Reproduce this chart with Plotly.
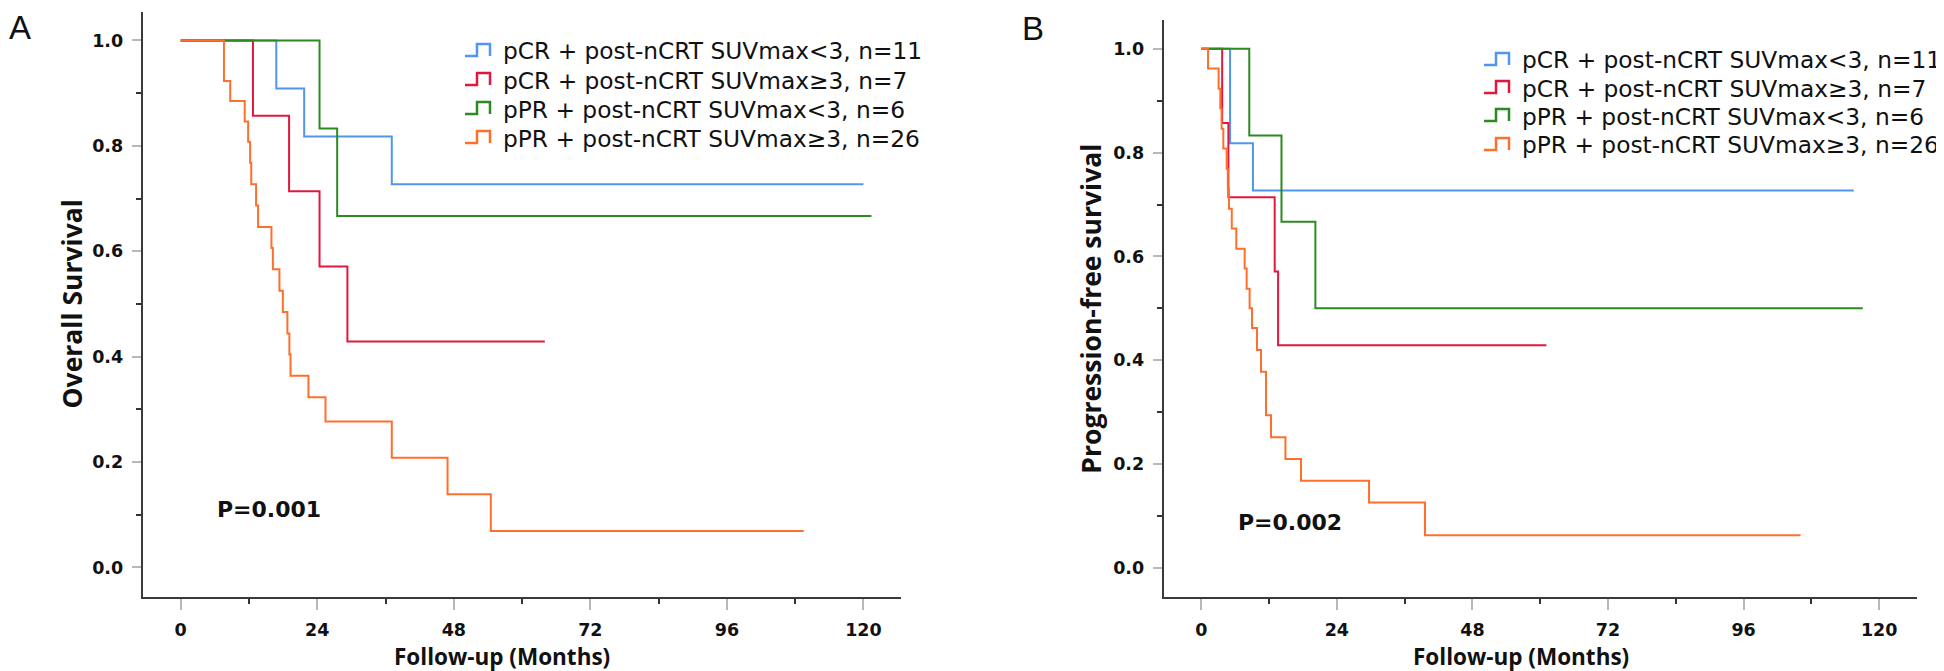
import plotly.graph_objects as go

# ---------------- data ----------------
labels = [
    "pCR + post-nCRT SUVmax<3, n=11",
    "pCR + post-nCRT SUVmax\u22653, n=7",
    "pPR + post-nCRT SUVmax<3, n=6",
    "pPR + post-nCRT SUVmax\u22653, n=26",
]
colors = ["#4f96ec", "#e1173f", "#2b8a22", "#ff6f2c"]

# Panel A: overall survival (event times in months, survival after each event, end of follow-up)
os_blue_t = [16.8, 21.7, 37.1]
os_blue_s = [0.909, 0.818, 0.727]
os_blue_end = 120.0

os_red_t = [12.7, 19.05, 24.4, 29.3]
os_red_s = [0.857, 0.714, 0.571, 0.429]
os_red_end = 64.0

os_green_t = [24.4, 27.5]
os_green_s = [0.833, 0.667]
os_green_end = 121.4

os_orange_t = [7.6, 8.7, 11.25, 11.85, 12.2, 12.4, 13.25, 13.6, 15.95, 16.2, 17.35, 17.95,
               18.75, 19.1, 19.3, 22.45, 25.45, 37.1, 46.9, 54.5]
os_orange_s = [0.923, 0.885, 0.846, 0.808, 0.768, 0.727, 0.687, 0.646, 0.606, 0.566, 0.525,
               0.485, 0.444, 0.404, 0.364, 0.323, 0.277, 0.208, 0.139, 0.069]
os_orange_end = 109.5

# Panel B: progression-free survival
pfs_blue_t = [5.1, 9.15]
pfs_blue_s = [0.818, 0.727]
pfs_blue_end = 115.5

pfs_red_t = [3.7, 4.8, 13.0, 13.6]
pfs_red_s = [0.857, 0.714, 0.571, 0.429]
pfs_red_end = 61.1

pfs_green_t = [8.5, 14.2, 20.2]
pfs_green_s = [0.833, 0.667, 0.500]
pfs_green_end = 117.1

pfs_orange_t = [1.2, 3.07, 3.37, 3.6, 3.9, 4.5, 4.7, 4.9, 5.4, 6.2, 7.68, 8.03, 8.56, 8.98,
                9.86, 10.57, 11.46, 12.35, 14.9, 17.66, 29.7, 39.6]
pfs_orange_s = [0.962, 0.923, 0.885, 0.846, 0.808, 0.769, 0.731, 0.692, 0.654, 0.615, 0.577,
                0.538, 0.500, 0.462, 0.420, 0.378, 0.294, 0.252, 0.210, 0.168, 0.126, 0.063]
pfs_orange_end = 106.1

p_values = ["P=0.001", "P=0.002"]
y_titles = ["Overall Survival", "Progression-free survival"]
x_title = "Follow-up (Months)"
panel_letters = ["A", "B"]
x_ticks = [0, 24, 48, 72, 96, 120]
y_ticks = [0.0, 0.2, 0.4, 0.6, 0.8, 1.0]

W, H = 1944, 671

def px(x):
    return x / W

def py(y):
    return 1 - y / H

panels = [
    dict(series=[(os_blue_t, os_blue_s, os_blue_end), (os_red_t, os_red_s, os_red_end),
                 (os_green_t, os_green_s, os_green_end), (os_orange_t, os_orange_s, os_orange_end)],
         xdom=(134.7, 893.0), ydom=(4.0, 589.0), xr=[-6.68, 126.6], yr=[-0.056, 1.054],
         ptext=(6.0, 0.11), ytitle_x=63, xtitle_x=494, letter=(12, 19),
         leg=dict(ix0=457, ix1=469, ix2=482, tx=493, rows=[43, 72, 101, 130])),
    dict(series=[(pfs_blue_t, pfs_blue_s, pfs_blue_end), (pfs_red_t, pfs_red_s, pfs_red_end),
                 (pfs_green_t, pfs_green_s, pfs_green_end), (pfs_orange_t, pfs_orange_s, pfs_orange_end)],
         xdom=(1155.7, 1909.0), ydom=(12.3, 589.0), xr=[-6.65, 126.7], yr=[-0.0558, 1.0547],
         ptext=(6.2, 0.087), ytitle_x=1083, xtitle_x=1513, letter=(1025, 21),
         leg=dict(ix0=1476, ix1=1488, ix2=1501, tx=1512, rows=[52, 80, 108, 137])),
]

fig = go.Figure()
annotations = []
shapes = []
tick_font = dict(family="DejaVu Sans", size=17.5, color="#111", weight="bold")

for k, pn in enumerate(panels):
    xa = "x" if k == 0 else "x2"
    ya = "y" if k == 0 else "y2"
    for (t, s, end), c, lab in zip(pn["series"], colors, labels):
        xs = [0] + list(t) + [end]
        ys = [1.0] + list(s) + [s[-1]]
        fig.add_trace(go.Scatter(x=xs, y=ys, mode="lines", line=dict(color=c, width=2, shape="hv"),
                                 name=lab, showlegend=False, xaxis=xa, yaxis=ya, hoverinfo="skip"))
    ax_common = dict(showline=True, linecolor="#3a3a3a", linewidth=2, showgrid=False, zeroline=False,
                     ticks="outside", tickcolor="#b8b8b8", tickwidth=1.5, tickfont=tick_font)
    xkey = "xaxis" if k == 0 else "xaxis2"
    ykey = "yaxis" if k == 0 else "yaxis2"
    fig.update_layout(**{
        xkey: dict(ax_common, domain=[px(pn["xdom"][0]), px(pn["xdom"][1])], range=pn["xr"],
                   tickmode="array", tickvals=x_ticks, ticktext=[str(v) for v in x_ticks], ticklen=11,
                   ticklabelstandoff=5, anchor=ya,
                   minor=dict(tickmode="array", tickvals=[12, 36, 60, 84, 108], ticks="outside",
                              ticklen=5, tickcolor="#333", tickwidth=1.5)),
        ykey: dict(ax_common, domain=[py(pn["ydom"][1]), py(pn["ydom"][0])], range=pn["yr"],
                   tickmode="array", tickvals=y_ticks, ticktext=[f"{v:.1f}" for v in y_ticks], ticklen=9,
                   ticklabelstandoff=5, anchor=xa,
                   minor=dict(tickmode="array", tickvals=[0.1, 0.3, 0.5, 0.7, 0.9], ticks="outside",
                              ticklen=5, tickcolor="#333", tickwidth=1.5)),
    })
    # P value
    annotations.append(dict(x=pn["ptext"][0], y=pn["ptext"][1], xref=xa, yref=ya, text=p_values[k],
                            showarrow=False, xanchor="left", yanchor="middle",
                            font=dict(family="DejaVu Sans", size=22, color="#111", weight="bold")))
    # axis titles
    ymid = (pn["ydom"][0] + pn["ydom"][1]) / 2
    annotations.append(dict(x=px(pn["ytitle_x"]), y=py(ymid), xref="paper", yref="paper", text=y_titles[k],
                            textangle=-90, showarrow=False, xanchor="center", yanchor="middle",
                            font=dict(family="Open Sans", size=26.5, color="#111", weight="bold")))
    annotations.append(dict(x=px(pn["xtitle_x"]), y=py(648), xref="paper", yref="paper", text=x_title,
                            showarrow=False, xanchor="center", yanchor="middle",
                            font=dict(family="Open Sans", size=22.5, color="#111", weight="bold")))
    # panel letter
    annotations.append(dict(x=px(pn["letter"][0]), y=py(pn["letter"][1]), xref="paper", yref="paper",
                            text=panel_letters[k], showarrow=False, xanchor="center", yanchor="middle",
                            font=dict(family="Liberation Sans", size=33, color="#111")))
    # custom legend with step icons
    lg = pn["leg"]
    for lab, c, yc in zip(labels, colors, lg["rows"]):
        yb, yt = yc + 5, yc - 7
        path = (f"M {px(lg['ix0'])},{py(yb)} L {px(lg['ix1'])},{py(yb)} L {px(lg['ix1'])},{py(yt)} "
                f"L {px(lg['ix2'])},{py(yt)} L {px(lg['ix2'])},{py(yb)}")
        shapes.append(dict(type="path", path=path, xref="paper", yref="paper",
                           line=dict(color=c, width=2.5)))
        annotations.append(dict(x=px(lg["tx"]), y=py(yc), xref="paper", yref="paper", text=lab,
                                showarrow=False, xanchor="left", yanchor="middle",
                                font=dict(family="DejaVu Sans", size=23.3, color="#111")))

fig.update_layout(width=W, height=H, margin=dict(l=0, r=0, t=0, b=0),
                  plot_bgcolor="white", paper_bgcolor="white",
                  annotations=annotations, shapes=shapes, showlegend=False)

fig.write_html("out.html")
